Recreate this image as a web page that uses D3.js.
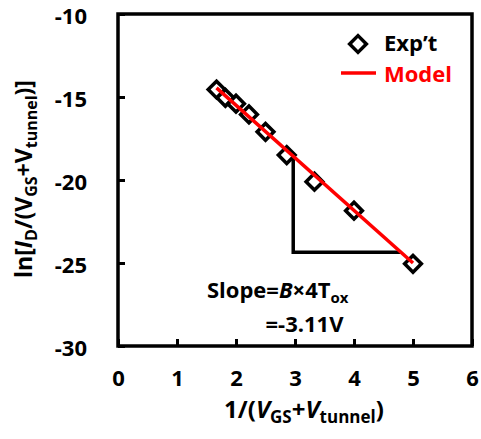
<!DOCTYPE html>
<html><head><meta charset="utf-8">
<script src="https://cdn.jsdelivr.net/npm/d3@7"></script>
<style>
body{margin:0;background:#fff;}
text{font-family:"Open Sans",Lato,sans-serif;font-weight:bold;}
</style></head>
<body><svg id="c" width="481" height="439"></svg>
<script>
const xVals = [1.67, 1.82, 2.0, 2.22, 2.5, 2.86, 3.33, 4.0, 5.0];
const yVals = [-14.55, -15.05, -15.4, -16.05, -17.1, -18.5, -20.1, -21.85, -25.05];
const modelX = [1.67, 5.0];
const modelY = [-14.45, -25.0];
const triX = [2.97, 2.97, 4.78];
const triY = [-18.6, -24.35, -24.35];
const xTicks = [0, 1, 2, 3, 4, 5, 6];
const yTicks = [-10, -15, -20, -25, -30];

const FONT = "'Open Sans', Lato, sans-serif";
const svg = d3.select("#c");
const x = d3.scaleLinear().domain([0, 6]).range([118, 472]);
const y = d3.scaleLinear().domain([-30, -10]).range([346, 14]);

// frame
svg.append("rect").attr("x", x(0)).attr("y", y(-10))
  .attr("width", x(6) - x(0)).attr("height", y(-30) - y(-10))
  .attr("fill", "none").attr("stroke", "#000").attr("stroke-width", 3.5);

// axes with inward ticks
const xAxis = svg.append("g").attr("transform", `translate(0,${y(-30)})`)
  .call(d3.axisBottom(x).tickValues(xTicks).tickSize(-7).tickPadding(24).tickFormat(d => String(d)));
const yAxis = svg.append("g").attr("transform", `translate(${x(0)},0)`)
  .call(d3.axisLeft(y).tickValues(yTicks).tickSize(-7).tickPadding(31).tickFormat(d => String(d)));
[xAxis, yAxis].forEach(g => {
  g.select(".domain").remove();
  g.selectAll(".tick line").attr("stroke", "#000").attr("stroke-width", 3);
  g.selectAll(".tick text").attr("fill", "#000").attr("font-size", 22)
    .attr("font-family", FONT).attr("font-weight", "bold");
});
yAxis.selectAll(".tick text").attr("dy", "0.45em");

// triangle
svg.append("path")
  .attr("d", d3.line().x(d => x(d[0])).y(d => y(d[1]))(d3.zip(triX, triY)))
  .attr("fill", "none").attr("stroke", "#000").attr("stroke-width", 3.5);

// diamonds
const diamond = d3.symbol().type(d3.symbolSquare).size(140);
svg.append("g").selectAll("path").data(d3.zip(xVals, yVals)).join("path")
  .attr("d", diamond)
  .attr("transform", d => `translate(${x(d[0])},${y(d[1])}) rotate(45)`)
  .attr("fill", "none").attr("stroke", "#000").attr("stroke-width", 3.5);

// model line
svg.append("path")
  .attr("d", d3.line().x(d => x(d[0])).y(d => y(d[1]))(d3.zip(modelX, modelY)))
  .attr("fill", "none").attr("stroke", "#ff0000").attr("stroke-width", 3.5);

// legend
svg.append("path").attr("d", diamond).attr("transform", "translate(358,44) rotate(45)")
  .attr("fill", "none").attr("stroke", "#000").attr("stroke-width", 3.5);
svg.append("text").attr("x", 384).attr("y", 51).attr("font-size", 22).attr("fill", "#000").text("Exp’t");
svg.append("line").attr("x1", 341).attr("x2", 376).attr("y1", 73).attr("y2", 73)
  .attr("stroke", "#ff0000").attr("stroke-width", 3.5);
svg.append("text").attr("x", 384).attr("y", 82).attr("font-size", 22).attr("fill", "#ff0000").text("Model");

// slope annotation
const t1 = svg.append("text").attr("x", 207).attr("y", 298).attr("font-size", 22).attr("fill", "#000");
t1.append("tspan").text("Slope=");
t1.append("tspan").attr("font-style", "italic").text("B");
t1.append("tspan").text("×4T");
t1.append("tspan").attr("font-size", 15).attr("dy", 5).text("ox");
const t1End = 207 + t1.node().getComputedTextLength();
svg.append("text").attr("x", t1End - 5).attr("y", 332).attr("text-anchor", "end")
  .attr("font-size", 22).attr("fill", "#000").text("=-3.11V");

// x title
const xt = svg.append("text").attr("x", 304).attr("y", 418).attr("text-anchor", "middle").attr("font-size", 24).attr("fill", "#000");
xt.append("tspan").text("1/(");
xt.append("tspan").attr("font-style", "italic").text("V");
xt.append("tspan").attr("font-size", 17).attr("dy", 5).text("GS");
xt.append("tspan").attr("dy", -5).text("+");
xt.append("tspan").attr("font-style", "italic").text("V");
xt.append("tspan").attr("font-size", 17).attr("dy", 5).text("tunnel");
xt.append("tspan").attr("dy", -5).text(")");

// y title
const yt = svg.append("text").attr("transform", "translate(32,179) rotate(-90)").attr("text-anchor", "middle").attr("font-size", 23).attr("fill", "#000");
yt.append("tspan").text("ln[");
yt.append("tspan").attr("font-style", "italic").text("I");
yt.append("tspan").attr("font-size", 16).attr("dy", 5).text("D");
yt.append("tspan").attr("dy", -5).text("/(");
yt.append("tspan").text("V");
yt.append("tspan").attr("font-size", 16).attr("dy", 5).text("GS");
yt.append("tspan").attr("dy", -5).text("+");
yt.append("tspan").text("V");
yt.append("tspan").attr("font-size", 16).attr("dy", 5).text("tunnel");
yt.append("tspan").attr("dy", -5).text(")]");
</script></body></html>
